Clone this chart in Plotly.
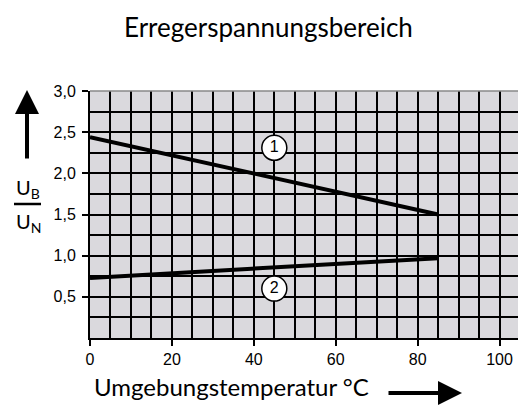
import plotly.graph_objects as go

# Data
temp = [0, 85]
curve1 = [2.44, 1.50]
curve2 = [0.73, 0.97]
label_names = ["1", "2"]
label_x = [45, 45]
label_y = [2.31, 0.60]

x_tickvals = [0, 20, 40, 60, 80, 100]
x_ticktext = ["0", "20", "40", "60", "80", "100"]
y_tickvals = [0.5, 1.0, 1.5, 2.0, 2.5, 3.0]
y_ticktext = ["0,5", "1,0", "1,5", "2,0", "2,5", "3,0"]

W, H = 519, 406
L, R, T, B = 90, 1, 91, 68
pw, ph = W - L - R, H - T - B

def px(x):
    return (x - L) / pw

def py(y):
    return (H - B - y) / ph

font_fam = "Lato, Open Sans, sans-serif"
tick_fam = "Liberation Sans, Arial, sans-serif"

fig = go.Figure()
for yv in (curve1, curve2):
    fig.add_trace(go.Scatter(x=temp, y=yv, mode="lines",
                             line=dict(color="black", width=4),
                             showlegend=False, hoverinfo="skip"))
fig.add_trace(go.Scatter(x=label_x, y=label_y, mode="markers+text",
                         text=label_names, textposition="middle center",
                         textfont=dict(family=tick_fam, size=16, color="black"),
                         marker=dict(size=25, color="white",
                                     line=dict(color="black", width=1.5)),
                         showlegend=False, hoverinfo="skip"))

axis_common = dict(showline=True, linecolor="black", linewidth=2,
                   ticks="outside", ticklen=6, tickwidth=2, tickcolor="black",
                   showgrid=True, gridcolor="black", gridwidth=2,
                   zeroline=False, automargin=False,
                   tickfont=dict(family=tick_fam, size=16, color="black"))

fig.update_xaxes(range=[0, 104.5], tickvals=x_tickvals, ticktext=x_ticktext,
                 minor=dict(dtick=5, tick0=0, showgrid=True, gridcolor="black",
                            gridwidth=2, ticks=""),
                 **axis_common)
fig.update_yaxes(range=[0, 3.0], tickvals=y_tickvals, ticktext=y_ticktext,
                 ticklabelstandoff=3,
                 minor=dict(dtick=0.25, tick0=0, showgrid=True, gridcolor="black",
                            gridwidth=2, ticks=""),
                 **axis_common)

annotations = [
    dict(text="Erregerspannungsbereich", xref="paper", yref="paper",
         x=px(268), y=py(9), showarrow=False, xanchor="center", yanchor="top",
         font=dict(family=font_fam, size=26, color="black")),
    dict(text="Umgebungstemperatur °C", xref="paper", yref="paper",
         x=px(92), y=py(386), showarrow=False, xanchor="left", yanchor="middle",
         font=dict(family=font_fam, size=24, color="black")),
    # x arrow
    dict(xref="paper", yref="paper", x=px(462), y=py(393),
         ax=-75, ay=0, text="", showarrow=True, arrowhead=2, arrowsize=1.2,
         arrowwidth=4, arrowcolor="black"),
    # y arrow
    dict(xref="paper", yref="paper", x=px(27), y=py(90),
         ax=0, ay=70, text="", showarrow=True, arrowhead=2, arrowsize=1.2,
         arrowwidth=4, arrowcolor="black"),
    dict(text="U<sub>B</sub>", xref="paper", yref="paper",
         x=px(28), y=py(188), showarrow=False, xanchor="center", yanchor="middle",
         font=dict(family=font_fam, size=20, color="black")),
    dict(text="U<sub>N</sub>", xref="paper", yref="paper",
         x=px(28), y=py(222), showarrow=False, xanchor="center", yanchor="middle",
         font=dict(family=font_fam, size=20, color="black")),
]

shapes = [
    dict(type="line", xref="paper", yref="paper", x0=px(14), x1=px(41),
         y0=py(204), y1=py(204), line=dict(color="black", width=2.5)),
    dict(type="line", xref="paper", yref="paper", x0=0, x1=1,
         y0=1, y1=1, line=dict(color="#888888", width=1.5)),
]

fig.update_layout(width=W, height=H,
                  margin=dict(l=L, r=R, t=T, b=B, autoexpand=False),
                  paper_bgcolor="white", plot_bgcolor="#dad9dd",
                  annotations=annotations, shapes=shapes)

fig.write_html("out.html",
               config={"displayModeBar": False},
               post_script="document.body.style.margin='0';"
                           "document.body.style.overflow='hidden';")
